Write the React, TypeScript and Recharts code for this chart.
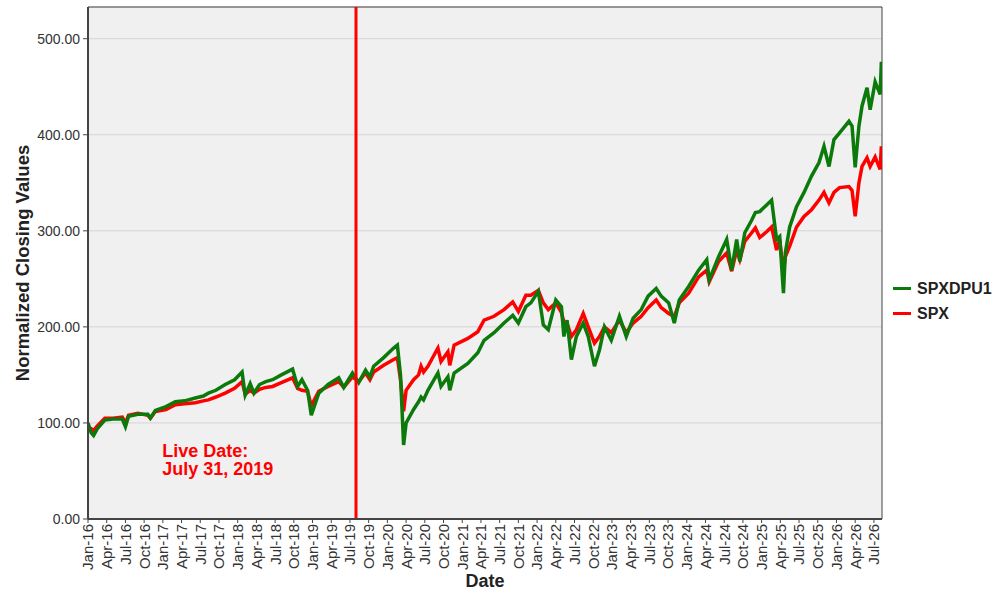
import React from "react";
import {
  LineChart,
  Line,
  XAxis,
  YAxis,
  CartesianGrid,
  ReferenceLine,
  ReferenceArea,
  ReferenceDot,
  Label,
} from "recharts";

// time in months since Jan-16
const TIMES = [
  0.0, 0.5, 0.9, 1.5, 2.7, 4.0, 5.5, 6.0, 6.5, 8.0, 9.6, 10.0, 10.8, 12.5, 14.0, 15.5, 17.2, 18.5, 19.3, 20.5,
  22.0, 23.5, 24.7, 25.2, 26.0, 26.6, 27.5, 28.5, 29.6, 31.0, 32.8, 33.6, 34.3, 35.2, 35.8, 37.0, 38.5, 40.2,
  41.0, 42.4, 43.4, 44.5, 45.2, 45.8, 47.4, 49.0, 49.6, 50.1, 50.6, 51.0, 52.2, 53.0, 53.4, 53.8, 54.5, 56.1,
  56.6, 57.7, 58.0, 58.7, 60.9, 62.5, 63.5, 65.1, 66.7, 68.1, 69.0, 70.2, 71.0, 72.2, 73.0, 73.8, 75.0, 75.9,
  76.3, 76.8, 77.5, 78.3, 79.4, 80.2, 81.2, 82.0, 82.8, 83.9, 85.2, 86.3, 87.4, 88.7, 89.8, 91.1, 91.9, 93.1,
  94.0, 94.8, 96.3, 97.9, 99.2, 99.6, 101.1, 102.4, 103.2, 104.0, 104.5, 105.3, 106.4, 107.0, 107.7, 108.8,
  109.6, 110.4, 110.9, 111.5, 111.8, 112.5, 113.6, 114.8, 116.0, 117.2, 118.0, 118.8, 119.6, 120.5, 122.0,
  122.5, 123.0, 123.6, 124.1, 124.9, 125.4, 126.2, 127.0, 127.2, 127.3,
];

const SPXDPU1_VALUES = [
  100, 90, 87, 94, 103, 104, 104, 96, 107, 109, 109, 105, 113, 117, 122, 123, 126, 128, 131, 134,
  140, 145, 153, 129, 141, 131, 140, 143, 145, 150, 156, 138, 145, 134, 108, 131, 140, 147,
  137, 152, 142, 155, 148, 159, 168, 178, 181, 150, 77, 100, 114, 122, 127, 124, 134, 152,
  138, 148, 134, 152, 162, 173, 186, 194, 204, 212, 204, 221, 225, 237, 202, 197, 228, 221,
  190, 207, 166, 190, 204, 190, 159, 176, 200, 186, 211, 190, 209, 218, 232, 240, 232, 225,
  204, 228, 242, 259, 270, 249, 273, 291, 259, 291, 268, 298, 311, 319, 320, 327,
  332, 291, 294, 235, 277, 304, 325, 340, 357, 371, 388, 367, 395, 402, 414,
  409, 366, 409, 430, 449, 426, 455, 442, 476, 445,
];

const SPX_VALUES = [
  96, 94, 92, 97, 105, 105, 106, 100, 108, 110, 108, 105, 112, 114, 119, 120, 121, 123, 124, 127,
  131, 136, 143, 130, 134, 131, 135, 137, 138, 142, 147, 136, 134, 133, 118, 133, 138, 143,
  137, 148, 143, 152, 145, 153, 160, 166, 168, 145, 112, 134, 145, 150, 159, 153, 159, 178,
  164, 174, 160, 181, 188, 195, 207, 211, 218, 226, 216, 233, 233, 238, 225, 218, 225, 215,
  205, 204, 190, 197, 214, 200, 183, 190, 200, 194, 207, 194, 204, 211, 220, 228, 220, 214,
  211, 225, 235, 252, 259, 247, 268, 277, 258, 280, 270, 289, 298, 303, 293, 299,
  304, 280, 291, 256, 273, 284, 304, 315, 322, 332, 340, 329, 340, 345, 346,
  342, 315, 350, 367, 376, 367, 377, 364, 388, 365,
];

const SERIES_NAMES = ["SPXDPU1", "SPX"];
const SERIES_COLORS = ["#0b7a0b", "#ff0000"];

const QUARTER_MONTHS = ["Jan", "Apr", "Jul", "Oct"];
const YEARS = ["16", "17", "18", "19", "20", "21", "22", "23", "24", "25", "26"];
const X_TICK_LABELS = YEARS.flatMap((yr) => QUARTER_MONTHS.map((m) => `${m}-${yr}`)).slice(0, 43);
const X_TICKS = X_TICK_LABELS.map((_, i) => i * 3);
const Y_TICKS = [0, 100, 200, 300, 400, 500];

const LIVE_DATE_T = 42.97;
const LIVE_LABEL_LINES = ["Live Date:", "July 31, 2019"];
const LIVE_LABEL_T = 11.9;
const LIVE_LABEL_V = [71, 52];

const X_MAX = 127.3;
const Y_MAX = 533;

const FONT = "Arial, 'Liberation Sans', sans-serif";

const chartData = TIMES.map((t, i) => ({
  t,
  spxdpu1: SPXDPU1_VALUES[i],
  spx: SPX_VALUES[i],
}));

function XTick({ x, y, payload }: any) {
  const idx = X_TICKS.indexOf(payload.value);
  return (
    <g transform={`translate(${x},${y})`}>
      <text transform="rotate(-90)" x={1} y={0} dy="0.36em" textAnchor="end" fill="#333" fontSize={15} fontFamily={FONT}>
        {X_TICK_LABELS[idx]}
      </text>
    </g>
  );
}

function renderYTitle(props: any) {
  const { x, y, height } = props.viewBox;
  const cx = x + 12;
  const cy = y + height / 2;
  return (
    <text
      x={cx}
      y={cy}
      transform={`rotate(-90 ${cx} ${cy})`}
      textAnchor="middle"
      dominantBaseline="central"
      fontSize={18.5}
      fontWeight="bold"
      fill="#222"
      fontFamily={FONT}
    >
      Normalized Closing Values
    </text>
  );
}

function renderXTitle(props: any) {
  const { x, y, width } = props.viewBox;
  return (
    <text
      x={x + width / 2}
      y={y + 62}
      textAnchor="middle"
      dominantBaseline="central"
      fontSize={18}
      fontWeight="bold"
      fill="#222"
      fontFamily={FONT}
    >
      Date
    </text>
  );
}

export default function App() {
  return (
    <div style={{ position: "absolute", left: 0, top: 0, width: 1000, height: 600, background: "#fff", fontFamily: FONT }}>
      <LineChart width={1000} height={600} data={chartData} margin={{ top: 7, right: 118, bottom: 6, left: 10 }}>
        <CartesianGrid vertical={false} fill="#f0f0f0" stroke="#d4d4d4" />
        <XAxis
          dataKey="t"
          type="number"
          domain={[0, X_MAX]}
          ticks={X_TICKS}
          interval={0}
          height={75}
          tick={<XTick />}
          tickSize={4}
          tickMargin={2}
          tickLine={{ stroke: "#444" }}
          axisLine={{ stroke: "#444", strokeWidth: 2 }}
          allowDataOverflow
        >
          <Label content={renderXTitle} />
        </XAxis>
        <YAxis
          type="number"
          domain={[0, Y_MAX]}
          ticks={Y_TICKS}
          width={78}
          tickFormatter={(v: number) => v.toFixed(2)}
          tick={{ fill: "#333", fontSize: 14, fontFamily: FONT }}
          tickSize={5}
          tickMargin={3}
          tickLine={{ stroke: "#444" }}
          axisLine={{ stroke: "#444", strokeWidth: 2 }}
          allowDataOverflow
        >
          <Label content={renderYTitle} />
        </YAxis>
        <ReferenceArea x1={0} x2={X_MAX} y1={0} y2={Y_MAX} fill="none" stroke="#444" strokeWidth={1} />
        <Line
          type="linear"
          dataKey="spx"
          name={SERIES_NAMES[1]}
          stroke={SERIES_COLORS[1]}
          strokeWidth={3.5}
          dot={false}
          isAnimationActive={false}
        />
        <Line
          type="linear"
          dataKey="spxdpu1"
          name={SERIES_NAMES[0]}
          stroke={SERIES_COLORS[0]}
          strokeWidth={3.5}
          dot={false}
          isAnimationActive={false}
        />
        <ReferenceLine x={LIVE_DATE_T} stroke="#ff0000" strokeWidth={3} />
        {LIVE_LABEL_LINES.map((line, i) => (
          <ReferenceDot
            key={line}
            x={LIVE_LABEL_T}
            y={LIVE_LABEL_V[i]}
            r={0}
            fill="none"
            stroke="none"
            label={{
              value: line,
              position: "right",
              offset: 0,
              fill: "#ff0000",
              fontSize: 18,
              fontWeight: "bold",
              fontFamily: FONT,
            }}
          />
        ))}
      </LineChart>
      <div style={{ position: "absolute", left: 893, top: 276 }}>
        {SERIES_NAMES.map((name, i) => (
          <div key={name} style={{ display: "flex", alignItems: "center", height: 25 }}>
            <div style={{ width: 18, height: 3, background: SERIES_COLORS[i], marginRight: 6 }} />
            <span style={{ fontSize: 16, fontWeight: "bold", color: "#222" }}>{name}</span>
          </div>
        ))}
      </div>
    </div>
  );
}
